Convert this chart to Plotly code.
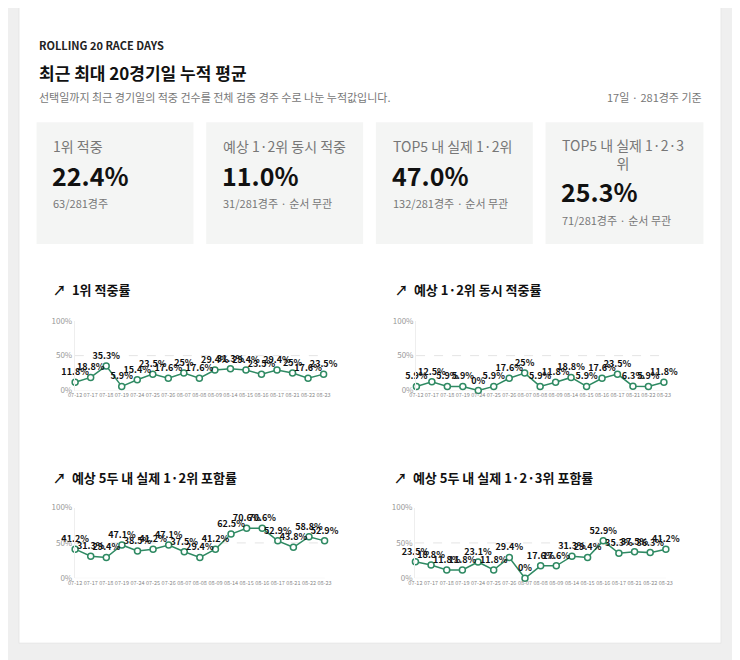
import plotly.graph_objects as go

dates = ['07-12', '07-17', '07-18', '07-19', '07-24', '07-25', '07-26', '08-07', '08-08',
         '08-09', '08-14', '08-15', '08-16', '08-17', '08-21', '08-22', '08-23']
win = [11.8, 18.8, 35.3, 5.9, 15.4, 23.5, 17.6, 25, 17.6, 29.4, 31.3, 29.4, 23.5, 29.4, 25, 17.6, 23.5]
quin = [5.9, 12.5, 5.9, 5.9, 0, 5.9, 17.6, 25, 5.9, 11.8, 18.8, 5.9, 17.6, 23.5, 6.3, 5.9, 11.8]
top5_12 = [41.2, 31.3, 29.4, 47.1, 38.5, 41.2, 47.1, 37.5, 29.4, 41.2, 62.5, 70.6, 70.6, 52.9, 43.8, 58.8, 52.9]
top5_123 = [23.5, 18.8, 11.8, 11.8, 23.1, 11.8, 29.4, 0, 17.6, 17.6, 31.3, 29.4, 52.9, 35.3, 37.5, 36.3, 41.2]

chart_titles = ['1위 적중률', '예상 1·2위 동시 적중률', '예상 5두 내 실제 1·2위 포함률', '예상 5두 내 실제 1·2·3위 포함률']
series = [win, quin, top5_12, top5_123]

stat_labels = ['1위 적중', '예상 1·2위 동시 적중', 'TOP5 내 실제 1·2위', 'TOP5 내 실제 1·2·3<br>위']
stat_values = ['22.4%', '11.0%', '47.0%', '25.3%']
stat_subs = ['63/281경주', '31/281경주 · 순서 무관', '132/281경주 · 순서 무관', '71/281경주 · 순서 무관']

# the page puts the figure 8px in from the corner, so size it to fit the window
OFF = 8
W, H = 740 - 2 * OFF, 660 - OFF
px = lambda x: (x - OFF) / W
py = lambda y: 1 - (y - OFF) / H
FONT = 'Noto Sans CJK KR'
GREEN = '#2f8a63'

fig = go.Figure()
shapes, ann = [], []

# page card
shapes.append(dict(type='rect', xref='paper', yref='paper', x0=px(12), x1=px(728), y0=py(648), y1=py(-20),
                   fillcolor='white', line=dict(color='#e6e6e6', width=1), layer='below'))

ann += [
    dict(x=px(30), y=py(40), text='<b>ROLLING 20 RACE DAYS</b>', font=dict(size=11, color='#222')),
    dict(x=px(30), y=py(67), text='<b>최근 최대 20경기일 누적 평균</b>', font=dict(size=17, color='#111')),
    dict(x=px(30), y=py(92), text='선택일까지 최근 경기일의 적중 건수를 전체 검증 경주 수로 나눈 누적값입니다.',
         font=dict(size=11, color='#777')),
    dict(x=px(711), y=py(92), text='17일 · 281경주 기준', font=dict(size=11, color='#777'), xanchor='right'),
]

boxes = [(30, 190), (203, 363), (376, 536), (549, 710)]
for i, (x0, x1) in enumerate(boxes):
    shapes.append(dict(type='rect', xref='paper', yref='paper', x0=px(x0), x1=px(x1), y0=py(242), y1=py(118),
                       fillcolor='#f4f5f4', line=dict(width=0), layer='below'))
    two = i == 3
    ann.append(dict(x=px(x0 + 15), y=py(142 if not two else 150), text=stat_labels[i], font=dict(size=14, color='#777')))
    ann.append(dict(x=px(x0 + 14), y=py(172 if not two else 188), text='<b>' + stat_values[i] + '</b>',
                    font=dict(size=25, color='#111')))
    ann.append(dict(x=px(x0 + 15), y=py(200 if not two else 218), text=stat_subs[i], font=dict(size=11, color='#777')))

# chart positions: (x0, x1, ytop, ybot, header y)
pos = [(69, 323, 320, 391, 288), (417, 670, 320, 391, 288), (69, 324, 510, 582, 479), (416, 672, 510, 582, 479)]
for i, (x0, x1, yt, yb, hy) in enumerate(pos):
    n = i + 1
    xa = 'x' if n == 1 else f'x{n}'
    ya = 'y' if n == 1 else f'y{n}'
    vals = series[i]
    fig.add_trace(go.Scatter(
        x=dates, y=vals, xaxis=xa, yaxis=ya, mode='lines+markers+text',
        line=dict(color=GREEN, width=1.5),
        marker=dict(size=6, color='white', line=dict(color=GREEN, width=1.5)),
        text=[f'{v:g}%' for v in vals], textposition='top center',
        textfont=dict(size=9, color='#111', family=FONT, weight='bold'),
        showlegend=False, cliponaxis=False))
    fig.layout[f'xaxis{n if n > 1 else ""}'] = dict(
        domain=[px(x0), px(x1)], anchor=ya, range=[-0.02, 16.02], type='category',
        showgrid=False, zeroline=False, showline=False, tickangle=0,
        tickfont=dict(size=5.5, color='#888'), ticks='')
    fig.layout[f'yaxis{n if n > 1 else ""}'] = dict(
        domain=[py(yb), py(yt)], anchor=xa, range=[0, 100], tickvals=[0, 50, 100],
        ticktext=['0%', '50%', '100%'], showgrid=False, zeroline=False,
        showline=True, linecolor='#eeeeee', tickfont=dict(size=8, color='#999'))
    shapes.append(dict(type='line', xref=f'{xa} domain', yref=ya, x0=0, x1=1, y0=50, y1=50,
                       line=dict(color='#e4e4e4', width=1, dash='dash'), layer='below'))
    shapes.append(dict(type='line', xref=f'{xa} domain', yref=ya, x0=0, x1=1, y0=0, y1=0,
                       line=dict(color='#eeeeee', width=1), layer='below'))
    ann.append(dict(x=px(x0 - 24), y=py(hy), text='<b>↗  ' + chart_titles[i] + '</b>',
                    font=dict(size=13, color='#111')))

for a in ann:
    a.setdefault('xanchor', 'left')
    a.update(xref='paper', yref='paper', yanchor='middle', showarrow=False)
    a['font'].setdefault('family', FONT)

fig.update_layout(width=W, height=H, margin=dict(l=0, r=0, t=0, b=0),
                  paper_bgcolor='#efefef', plot_bgcolor='rgba(0,0,0,0)',
                  font=dict(family=FONT), shapes=shapes, annotations=ann)
fig.write_html('out.html')
